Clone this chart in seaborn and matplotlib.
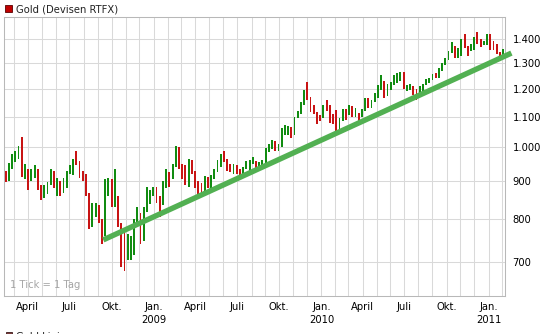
import numpy as np
import pandas as pd
import matplotlib
matplotlib.use("Agg")
import matplotlib.pyplot as plt
from matplotlib.patches import Rectangle
from matplotlib.ticker import NullLocator
import seaborn as sns

# Weekly bars (Mon-Fri), week ending Friday 2008-02-08 ... 2011-02-04, USD/oz
first_open = 905

high_2008 = [925, 930, 952, 978, 990, 1005, 1032, 950, 935, 935, 945, 935,
             890, 890, 898, 935, 928, 910, 900, 908, 930, 945, 965, 990, 958,
             930, 920, 868, 840, 840, 835, 800, 905, 910, 905, 935, 860, 790,
             770, 765, 760, 800, 830, 815, 830, 885, 875]
low_2008 = [885, 898, 900, 935, 955, 965, 912, 905, 875, 900, 910, 875,
            850, 855, 865, 890, 880, 860, 860, 868, 880, 920, 918, 945, 910,
            900, 860, 775, 780, 805, 790, 740, 760, 860, 830, 830, 780, 690,
            680, 705, 705, 715, 790, 740, 748, 818, 838]
close_2008 = [920, 905, 945, 970, 975, 1000, 920, 935, 905, 925, 930, 885,
              855, 885, 895, 925, 885, 900, 870, 903, 928, 932, 962, 955, 928,
              912, 864, 785, 830, 833, 800, 762, 865, 885, 835, 860, 783, 737,
              718, 735, 745, 795, 814, 752, 822, 840, 872]

high_2009 = [885, 885, 860, 900, 935, 925, 950, 1005, 1000, 950, 945, 965, 960,
             930, 900, 895, 915, 912, 918, 935, 960, 980, 990, 965, 950, 948,
             945, 935, 940, 958, 960, 970, 958, 955, 960, 998, 1010, 1022, 1020,
             1010, 1062, 1072, 1070, 1065, 1100, 1120, 1150, 1195, 1226, 1170,
             1140, 1115]
low_2009 = [860, 840, 805, 835, 880, 885, 905, 940, 935, 905, 890, 885, 920,
            880, 865, 862, 865, 880, 880, 905, 925, 940, 955, 928, 925, 920,
            920, 905, 908, 935, 928, 950, 938, 932, 940, 950, 985, 995, 988,
            988, 1000, 1040, 1040, 1030, 1040, 1095, 1110, 1140, 1160, 1115,
            1110, 1075]
close_2009 = [878, 853, 838, 898, 920, 914, 942, 1000, 942, 938, 929, 954, 925,
              898, 884, 868, 912, 888, 913, 928, 958, 978, 962, 938, 935, 940,
              925, 912, 937, 953, 955, 957, 949, 953, 955, 996, 1006, 1010, 991,
              1003, 1050, 1052, 1056, 1045, 1095, 1117, 1147, 1175, 1165, 1120,
              1110, 1105]

high_2010 = [1105, 1140, 1160, 1140, 1110, 1122, 1095, 1125, 1125, 1140, 1138,
             1130, 1112, 1128, 1165, 1165, 1160, 1182, 1212, 1250, 1230, 1218,
             1225, 1252, 1260, 1264, 1262, 1215, 1218, 1210, 1200, 1208, 1218,
             1235, 1242, 1255, 1260, 1278, 1300, 1320, 1350, 1388, 1370, 1360,
             1398, 1424, 1370, 1380, 1410, 1430, 1398, 1390, 1423]
low_2010 = [1085, 1095, 1120, 1080, 1075, 1045, 1055, 1085, 1090, 1105, 1100,
            1100, 1085, 1100, 1120, 1130, 1130, 1150, 1165, 1195, 1165, 1172,
            1195, 1215, 1220, 1230, 1200, 1190, 1195, 1175, 1157, 1178, 1192,
            1212, 1222, 1232, 1240, 1242, 1268, 1290, 1310, 1340, 1318, 1320,
            1330, 1360, 1330, 1348, 1355, 1380, 1365, 1372, 1375]
close_2010 = [1095, 1138, 1130, 1098, 1083, 1064, 1092, 1120, 1118, 1133, 1103,
              1107, 1105, 1125, 1162, 1136, 1155, 1180, 1208, 1229, 1177, 1212,
              1219, 1227, 1256, 1256, 1209, 1210, 1210, 1189, 1181, 1204, 1216,
              1228, 1237, 1248, 1245, 1276, 1297, 1318, 1345, 1369, 1326, 1358,
              1394, 1366, 1352, 1363, 1405, 1385, 1380, 1380, 1421]

high_2011 = [1423, 1390, 1378, 1345, 1358]
low_2011 = [1355, 1355, 1335, 1308, 1322]
close_2011 = [1368, 1360, 1342, 1340, 1348]

# Support line drawn on the chart
trend_dates = ["2008-09-12", "2011-02-21"]
trend_values = [750, 1340]

price_ticks = [700, 800, 900, 1000, 1100, 1200, 1300, 1400]
month_names = {1: "Jan.", 4: "April", 7: "Juli", 10: "Okt."}

# ---------------------------------------------------------------------------
high = np.array(high_2008 + high_2009 + high_2010 + high_2011, dtype=float)
low = np.array(low_2008 + low_2009 + low_2010 + low_2011, dtype=float)
close = np.array(close_2008 + close_2009 + close_2010 + close_2011, dtype=float)
opens = np.concatenate([[first_open], close[:-1]])
week_end = pd.date_range("2008-02-08", periods=len(close), freq="W-FRI")

origin = np.datetime64("2008-01-01")


def trading_pos(dates):
    d = np.asarray(pd.to_datetime(dates).values.astype("datetime64[D]"))
    return np.busday_count(origin, d)


# x axis counts trading days, so weekends leave no gaps
week_pos = trading_pos(week_end) - 2
df = pd.DataFrame({"pos": week_pos, "open": opens, "high": high,
                   "low": low, "close": close})
df["color"] = np.where(df["close"] >= df["open"], "#118c11", "#c81414")

sns.set_style("white")
plt.rcParams["font.family"] = ["DejaVu Sans"]

W, H = 541, 334
fig = plt.figure(figsize=(W / 100, H / 100), dpi=100)
fig.patch.set_facecolor("white")
ax = fig.add_axes([4 / W, 1 - 296 / H, (505 - 4) / W, (296 - 17) / H])

ax.bar(df["pos"], df["high"] - df["low"], bottom=df["low"], width=2.9,
       color=df["color"], linewidth=0, zorder=3)

trend = pd.DataFrame({"pos": trading_pos(trend_dates), "value": trend_values})
sns.lineplot(data=trend, x="pos", y="value", ax=ax, color="#52b052",
             linewidth=3.9, solid_capstyle="butt", clip_on=False, zorder=4)

ax.set_yscale("log")
ax.set_ylim(630, 1499)
ax.set_yticks(price_ticks)
ax.set_yticklabels([f"{v:,}".replace(",", ".") for v in price_ticks])
ax.yaxis.set_minor_locator(NullLocator())
ax.yaxis.tick_right()

x_left = trading_pos(["2008-02-08"])[0] + 0.3
x_right = trading_pos(["2011-02-07"])[0]
ax.set_xlim(x_left, x_right)

months = pd.date_range("2008-03-01", "2011-02-01", freq="MS")
first_days = [np.busday_offset(np.datetime64(m.date()), 0, roll="forward")
              for m in months]
month_pos = np.busday_count(origin, np.array(first_days))
labels = []
for m in months:
    if m.month in month_names:
        lab = month_names[m.month]
        if m.month == 1:
            lab += f"\n{m.year}"
        labels.append(lab)
    else:
        labels.append("")
ax.set_xticks(month_pos)
ax.set_xticklabels(labels, linespacing=1.35)
ax.xaxis.set_minor_locator(NullLocator())
ax.set_xlabel("")
ax.set_ylabel("")

ax.tick_params(axis="x", length=0, pad=4.5, labelsize=7.2, colors="black")
ax.tick_params(axis="y", length=0, pad=5.5, labelsize=7.2, colors="black")
ax.grid(True, color="#d9d9d9", linewidth=0.75)
ax.set_axisbelow(True)
for s in ax.spines.values():
    s.set_color("#b8b8b8")
    s.set_linewidth(0.75)

ax.text(0.011, 0.022, "1 Tick = 1 Tag", transform=ax.transAxes,
        fontsize=7.2, color="#a6a6a6", ha="left", va="bottom")

# legend entries
fig.patches.append(Rectangle((5 / W, 1 - 12 / H), 7 / W, 7 / H,
                             transform=fig.transFigure, facecolor="#c00000",
                             edgecolor="#5a0000", linewidth=0.6))
fig.text(16.5 / W, 1 - 9.5 / H, "Gold (Devisen RTFX)", fontsize=7.2,
         ha="left", va="center", color="#222222")
fig.patches.append(Rectangle((6 / W, 1 - 339 / H), 6 / W, 7 / H,
                             transform=fig.transFigure, facecolor="#7a3a3a",
                             edgecolor="#3a1a1a", linewidth=0.6))
fig.text(16.5 / W, 1 - 337 / H, "Gold Linie", fontsize=7.2,
         ha="left", va="center", color="#222222")

fig.savefig("out.png", dpi=100, facecolor="white")
